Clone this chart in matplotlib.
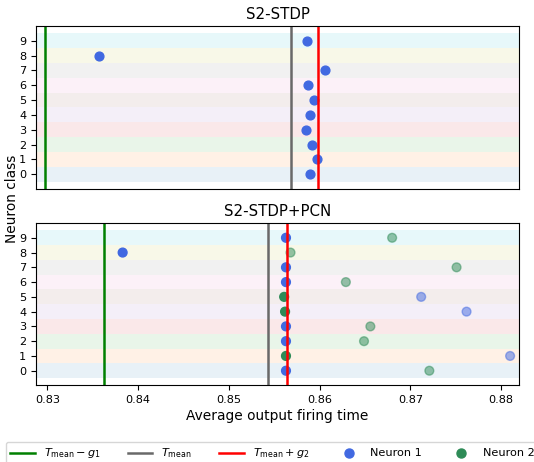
import numpy as np
import matplotlib.pyplot as plt
from matplotlib.lines import Line2D

classes = np.arange(10)

# S2-STDP : only neuron 1
stdp_n1 = [0.8589, 0.8597, 0.8592, 0.8585, 0.8589, 0.8594, 0.8587, 0.8606, 0.8357, 0.8586]
stdp_lines = [0.8297, 0.8568, 0.8598]  # T_mean - g1, T_mean, T_mean + g2

# S2-STDP+PCN : two neurons per class, winner drawn solid
pcn_n1 = [0.8563, 0.8810, 0.8563, 0.8563, 0.8762, 0.8712, 0.8563, 0.8563, 0.8383, 0.8563]
pcn_n2 = [0.8721, 0.8563, 0.8649, 0.8656, 0.8562, 0.8561, 0.8629, 0.8751, 0.8568, 0.8680]
pcn_winner = [1, 2, 1, 1, 2, 2, 1, 1, 1, 1]
pcn_lines = [0.8363, 0.8543, 0.8564]

band_colors = ['tab:blue', 'tab:orange', 'tab:green', 'tab:red', 'tab:purple',
               'tab:brown', 'tab:pink', 'tab:gray', 'tab:olive', 'tab:cyan']
line_colors = ['green', 'dimgray', 'red']
c1, c2 = 'royalblue', 'seagreen'

plt.rcParams['xtick.labelsize'] = 8.1
plt.rcParams['ytick.labelsize'] = 8.1

fig = plt.figure(figsize=(5.34, 4.62), dpi=100)
ax1 = fig.add_axes([0.0674, 0.591, 0.9045, 0.3527])
ax2 = fig.add_axes([0.0674, 0.1656, 0.9045, 0.3517], sharex=ax1)


def setup(ax, title):
    for i in classes:
        ax.axhspan(i - 0.5, i + 0.5, color=band_colors[i], alpha=0.1, lw=0)
    ax.set_ylim(-1, 10)
    ax.set_yticks(classes)
    ax.set_title(title, fontsize=10.8, pad=5)


setup(ax1, 'S2-STDP')
ax1.scatter(stdp_n1, classes, s=40, color=c1)
for x, c in zip(stdp_lines, line_colors):
    ax1.axvline(x, color=c, lw=1.8)
ax1.tick_params(axis='x', bottom=False, labelbottom=False)

setup(ax2, 'S2-STDP+PCN')
a1 = [1.0 if w == 1 else 0.5 for w in pcn_winner]
a2 = [1.0 if w == 2 else 0.5 for w in pcn_winner]
ax2.scatter(pcn_n2, classes, s=40, color=c2, alpha=a2)
ax2.scatter(pcn_n1, classes, s=40, color=c1, alpha=a1)
for x, c in zip(pcn_lines, line_colors):
    ax2.axvline(x, color=c, lw=1.8)
ax2.set_xlim(0.82875, 0.88198)
ax2.set_xticks([0.83, 0.84, 0.85, 0.86, 0.87, 0.88])
ax2.set_xlabel('Average output firing time', fontsize=9.9, labelpad=3)

fig.text(0.0234, 0.570, 'Neuron class', rotation=90, ha='center', va='center', fontsize=9.9)

handles = [Line2D([], [], color=line_colors[0], lw=1.8),
           Line2D([], [], color=line_colors[1], lw=1.8),
           Line2D([], [], color=line_colors[2], lw=1.8),
           Line2D([], [], ls='', marker='o', ms=6.5, color=c1),
           Line2D([], [], ls='', marker='o', ms=6.5, color=c2)]
labels = [r'$T_{\mathrm{mean}} - g_1$', r'$T_{\mathrm{mean}}$', r'$T_{\mathrm{mean}} + g_2$',
          'Neuron 1', 'Neuron 2']
fig.legend(handles, labels, loc='upper center', bbox_to_anchor=(0.51, 1 - 442 / 462),
           ncol=5, fontsize=8.1, handlelength=2.2, columnspacing=2.4, borderaxespad=0)

fig.savefig('out.png', dpi=100)
